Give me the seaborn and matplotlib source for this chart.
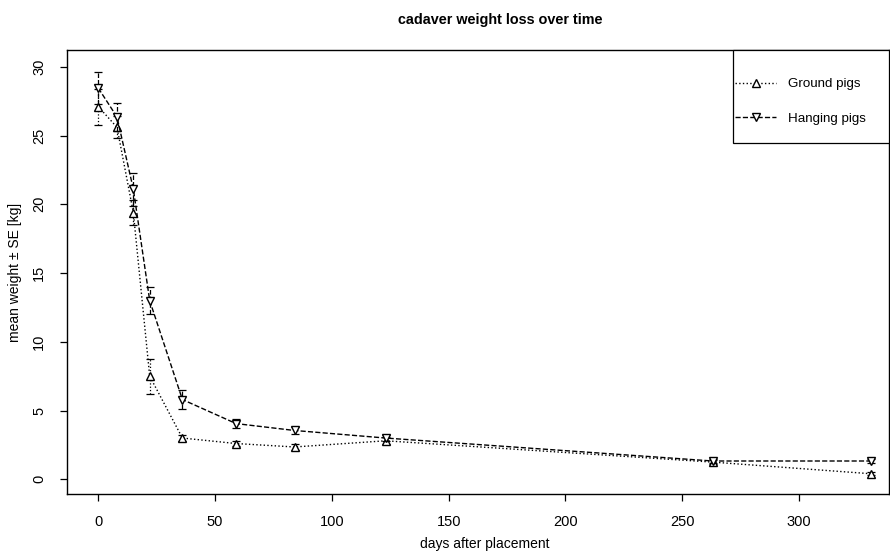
import matplotlib
matplotlib.use("Agg")
import matplotlib.pyplot as plt
from matplotlib.patches import Rectangle
import seaborn as sns

days = [0, 8, 15, 22, 36, 59, 84, 123, 263, 331]
ground_mean = [27.1, 25.6, 19.4, 7.5, 3.0, 2.6, 2.35, 2.8, 1.25, 0.4]
ground_se = [1.3, 0.8, 0.9, 1.27, 0.25, 0.2, 0.2, 0.25, 0.15, 0.1]
hanging_mean = [28.45, 26.35, 21.1, 13.0, 5.8, 4.05, 3.55, 3.0, 1.33, 1.33]
hanging_se = [1.15, 1.05, 1.2, 1.0, 0.7, 0.3, 0.25, 0.25, 0.15, 0.12]

sns.set_style("ticks")
plt.rcParams['font.family'] = ['Liberation Sans', 'DejaVu Sans']
plt.rcParams.update({'text.color': 'black', 'axes.labelcolor': 'black',
                     'xtick.color': 'black', 'ytick.color': 'black'})

fig = plt.figure(figsize=(8.9, 5.52), dpi=100)
ax = fig.add_axes([67 / 890, 1 - 494 / 552, (889 - 67) / 890, (494 - 50) / 552])


def draw(mean, se, ls, marker, label):
    eb = ax.errorbar(days, mean, yerr=se, fmt='none', ecolor='black',
                     elinewidth=0.9, capsize=3, capthick=0.9)
    eb[2][0].set_linestyle(ls)
    sns.lineplot(x=days, y=mean, ax=ax, color='black', linestyle=ls,
                 linewidth=1.0, marker=marker, markersize=6,
                 markerfacecolor='white', markeredgecolor='black',
                 markeredgewidth=1.0, label=label)


draw(ground_mean, ground_se, ':', '^', 'Ground pigs')
draw(hanging_mean, hanging_se, '--', 'v', 'Hanging pigs')

ax.set_xlim(-13.4, 338.5)
ax.set_ylim(-1.07, 31.22)
ax.set_xticks([0, 50, 100, 150, 200, 250, 300])
ax.set_yticks([0, 5, 10, 15, 20, 25, 30])
for s in ax.spines.values():
    s.set_color('black')
    s.set_linewidth(1.0)
ax.tick_params(axis='both', length=5, width=0.9, color='black',
               labelcolor='black', labelsize=10.5, pad=10)
for lab in ax.get_yticklabels():
    lab.set_rotation(90)
    lab.set_va('center')

ax.set_xlabel('days after placement', fontsize=10, color='black')
ax.set_ylabel('mean weight \u00b1 SE [kg]', fontsize=10, color='black')
ax.xaxis.set_label_coords((485 - 67) / 822, -43 / 444)
ax.yaxis.set_label_coords(-45 / 822, 0.5)

fig.text(500 / 890, 1 - 20 / 552, 'cadaver weight loss over time',
         ha='center', va='center', fontsize=10.4, fontweight='bold',
         color='black')

# legend box like R's, drawn as a frame with a frameless legend inside
ax.add_patch(Rectangle(((733 - 67) / 822, (494 - 143) / 444),
                       (889 - 733) / 822, (143 - 50) / 444,
                       transform=ax.transAxes, fill=True, facecolor='white',
                       edgecolor='black', linewidth=0.9, zorder=4,
                       clip_on=False))
leg = ax.legend(loc='upper left', bbox_to_anchor=((735 - 67) / 822, (494 - 78) / 444),
                borderaxespad=0, borderpad=0, frameon=False, fontsize=9.6,
                labelspacing=1.65, handlelength=3.1, handletextpad=0.9,
                labelcolor='black')
leg.set_zorder(5)

fig.savefig('out.png', dpi=100)
